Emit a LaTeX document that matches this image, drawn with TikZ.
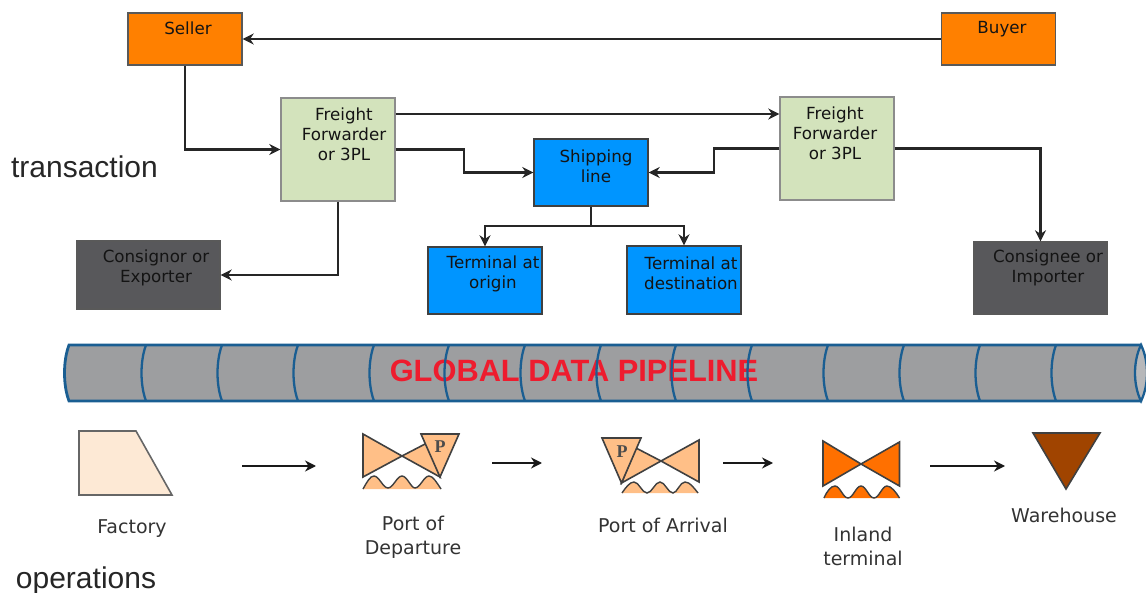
\documentclass[tikz,border=0pt]{standalone}
\usepackage{fontspec}
\setmainfont{DejaVu Sans}
\newfontfamily\arialfont{Liberation Sans}
\newfontfamily\pfont{Liberation Serif}
\usetikzlibrary{arrows.meta}
\definecolor{orangebox}{HTML}{FF8000}
\definecolor{greenbox}{HTML}{D3E3BC}
\definecolor{bluebox}{HTML}{0095FF}
\definecolor{darkbox}{HTML}{58585B}
\definecolor{pipefill}{HTML}{9D9EA0}
\definecolor{pipeend}{HTML}{B7B8BA}
\definecolor{pipeline}{HTML}{1A5E92}
\definecolor{redtext}{HTML}{EE1C2E}
\definecolor{factoryfill}{HTML}{FDE9D5}
\definecolor{portfill}{HTML}{FFBF87}
\definecolor{inlandfill}{HTML}{FF7000}
\definecolor{whfill}{HTML}{A04400}
\definecolor{inkline}{HTML}{262626}
\tikzset{
  box/.style n args={3}{draw=#3,line width=1.4pt,inner sep=0pt,minimum width=#1,minimum height=#2},
  orangeb/.style={box={114pt}{52pt}{black!65},fill=orangebox},
  greenb/.style={box={114pt}{103pt}{black!45},fill=greenbox},
  blueb/.style={box={114pt}{67pt}{black!75},fill=bluebox},
  darkb/.style={fill=darkbox,draw=black!65,line width=1.4pt,inner sep=0pt},
  lbl/.style={font=\fontsize{16.7}{20}\selectfont,text=black!92,align=center,inner sep=0pt},
  oplbl/.style={font=\fontsize{19}{24}\selectfont,text=black!80,align=center,inner sep=0pt},
  bigl/.style={font=\arialfont\fontsize{30}{32}\selectfont,text=black!85,inner sep=0pt},
  conn/.style={draw=inkline,line width=2.4pt,-{Stealth[length=11pt,width=11pt]}},
  plainconn/.style={draw=inkline,line width=2.4pt},
  oparrow/.style={draw=black!90,line width=2.4pt,-{Stealth[length=11pt,width=11pt]}},
  sym/.style={draw=black!75,line width=1.6pt,line join=miter},
  wave/.style={draw=black!75,line width=1.4pt},
  pipearc/.style={draw=pipeline,line width=2.3pt},
  pletter/.style={font=\pfont\bfseries\fontsize{18}{18}\selectfont,text=black!70,inner sep=0pt},
}
\begin{document}
\begin{tikzpicture}[x=1pt,y=-1pt]
\useasboundingbox (0,0) rectangle (1146,593);
\begin{scope}
\clip (0,0) rectangle (1146,593);
% boxes
\node[orangeb] (seller) at (185,39) {};
\node[orangeb] (buyer) at (998.5,39) {};
\node[greenb] (ffa) at (338,149.5) {};
\node[greenb] (ffb) at (837,148.5) {};
\node[blueb] (ship) at (591,172.5) {};
\node[blueb] (torig) at (485,280.5) {};
\node[blueb,minimum height=68pt] (tdest) at (684,280) {};
\node[darkb,minimum width=143pt,minimum height=68pt] (consr) at (148.5,275) {};
\node[darkb,minimum width=133pt,minimum height=72pt] (consee) at (1040.5,278) {};
% box texts
\node[lbl] (tseller) at (188,28) {Seller};
\node[lbl] (tbuyer) at (1002,29) {Buyer};
\node[lbl] (tffa) at (344,134.5) {Freight\\Forwarder\\or 3PL};
\node[lbl] (tffb) at (835,133.5) {Freight\\Forwarder\\or 3PL};
\node[lbl] (tship) at (596,166) {Shipping\\line};
\node[lbl] (ttorig) at (493,274) {Terminal at\\origin};
\node[lbl] (ttdest) at (691,273) {Terminal at\\destination};
\node[lbl] (tconsr) at (156,268) {Consignor or\\Exporter};
\node[lbl] (tconsee) at (1048,268) {Consignee or\\Importer};
% connectors
\draw[conn] (buyer.west) -- (seller.east);
\draw[conn] (seller.south) |- (ffa.west);
\draw[conn] (ffa.east |- 0,114) -- (ffb.west |- 0,114);
\draw[conn] (ffa.east) -- (ffa.east -| 464,0) |- (ship.west);
\draw[conn] (ffb.west) -- (ffb.west -| 714,0) |- (ship.east);
\coordinate (split) at (591,226);
\draw[plainconn] (ship.south) -- (split);
\draw[conn] (split) -| (torig.north);
\draw[conn] (split) -| (tdest.north);
\draw[conn] (ffa.south) |- (consr.east);
\draw[conn] (ffb.east) -| (consee.north);
% side labels
\node[bigl] (ttrans) at (84.5,167) {transaction};
\node[bigl] (toper) at (86,581) {operations};
% pipeline
\fill[pipefill] (69,345) -- (1142,345) -- (1142,401) -- (69,401) .. controls (63,385) and (63,361) .. (69,345) -- cycle;
\node[font=\arialfont\bfseries\fontsize{30.8}{32}\selectfont,text=redtext,inner sep=0pt] (tpipe) at (574,371) {GLOBAL DATA PIPELINE};
\draw[pipearc,line width=2.8pt] (1142,345) -- (69,345) .. controls (63,361) and (63,385) .. (69,401) -- (1142,401);
\foreach \px in {146,222,298,374,449,525,601,676,752,828,904,980,1056}{
  \draw[pipearc] (\px,345) .. controls (\px-6,361) and (\px-6,385) .. (\px,401);
}
\fill[pipeend] (1141,345) .. controls (1133,361) and (1133,385) .. (1141,401) .. controls (1149,385) and (1149,361) .. (1141,345) -- cycle;
\draw[pipearc] (1141,345) .. controls (1133,361) and (1133,385) .. (1141,401) .. controls (1149,385) and (1149,361) .. (1141,345) -- cycle;
\end{scope}
% factory
\draw[sym,draw=black!60,fill=factoryfill] (79,431) -- (136,431) -- (172,495) -- (79,495) -- cycle;
% port of departure
\draw[sym,fill=portfill] (363,434) -- (402,456) -- (363,477) -- cycle;
\draw[sym,fill=portfill] (402,456) -- (427,443) -- (440,477) -- cycle;
\draw[sym,fill=portfill] (421,434) -- (459,434) -- (440,477) -- cycle;
\node[pletter] (pa) at (440,447) {P};
\fill[portfill] (363,489) .. controls (367,482) and (370,476) .. (374,476) .. controls (379,476) and (383,488) .. (388,488) .. controls (393,488) and (397,476) .. (402,476) .. controls (407,476) and (411,488) .. (415,488) .. controls (420,488) and (424,476) .. (429,476) .. controls (433,476) and (437,483) .. (441,489) -- cycle;
\draw[wave] (363,489) .. controls (367,482) and (370,476) .. (374,476) .. controls (379,476) and (383,488) .. (388,488) .. controls (393,488) and (397,476) .. (402,476) .. controls (407,476) and (411,488) .. (415,488) .. controls (420,488) and (424,476) .. (429,476) .. controls (433,476) and (437,483) .. (441,489);
% port of arrival
\draw[sym,fill=portfill] (699,440) -- (661,461) -- (699,482) -- cycle;
\draw[sym,fill=portfill] (661,461) -- (636,448) -- (621.5,483) -- cycle;
\draw[sym,fill=portfill] (602,438) -- (641,438) -- (621.5,483) -- cycle;
\node[pletter] (pb) at (622,452) {P};
\fill[portfill] (622,493) .. controls (626,487) and (630,482) .. (634,482) .. controls (639,482) and (642,493) .. (647,493) .. controls (652,493) and (655,482) .. (660,482) .. controls (665,482) and (668,493) .. (673,493) .. controls (677,493) and (680,482) .. (685,482) .. controls (690,482) and (694,488) .. (698,493) -- cycle;
\draw[wave] (622,493) .. controls (626,487) and (630,482) .. (634,482) .. controls (639,482) and (642,493) .. (647,493) .. controls (652,493) and (655,482) .. (660,482) .. controls (665,482) and (668,493) .. (673,493) .. controls (677,493) and (680,482) .. (685,482) .. controls (690,482) and (694,488) .. (698,493);
% inland terminal
\draw[sym,fill=inlandfill] (823,441) -- (861,464) -- (823,486) -- cycle;
\draw[sym,fill=inlandfill] (899.5,442) -- (861,464) -- (899.5,486) -- cycle;
\fill[inlandfill] (824,498) .. controls (827,491) and (831,486) .. (835,486) .. controls (840,486) and (843,498) .. (848,498) .. controls (853,498) and (856,486) .. (861,486) .. controls (866,486) and (869,498) .. (874,498) .. controls (879,498) and (882,486) .. (887,486) .. controls (891,486) and (896,492) .. (899.5,498) -- cycle;
\draw[wave] (824,498) .. controls (827,491) and (831,486) .. (835,486) .. controls (840,486) and (843,498) .. (848,498) .. controls (853,498) and (856,486) .. (861,486) .. controls (866,486) and (869,498) .. (874,498) .. controls (879,498) and (882,486) .. (887,486) .. controls (891,486) and (896,492) .. (899.5,498);
% warehouse
\draw[sym,fill=whfill] (1033,433) -- (1100,433) -- (1066,489) -- cycle;
% operation arrows
\coordinate (oa1) at (242,466); \coordinate (ob1) at (316,466);
\coordinate (oa2) at (492,463); \coordinate (ob2) at (542,463);
\coordinate (oa3) at (723,463); \coordinate (ob3) at (773,463);
\coordinate (oa4) at (930,466); \coordinate (ob4) at (1005,466);
\draw[oparrow] (oa1) -- (ob1);
\draw[oparrow] (oa2) -- (ob2);
\draw[oparrow] (oa3) -- (ob3);
\draw[oparrow] (oa4) -- (ob4);
% operation labels
\node[oplbl] (lfac) at (132,529) {Factory};
\node[oplbl] (lpod) at (413,537) {Port of\\Departure};
\node[oplbl] (lpoa) at (663,525) {Port of Arrival};
\node[oplbl] (lint) at (863,546) {Inland\\terminal};
\node[oplbl] (lwh) at (1064,515) {Warehouse};
\end{tikzpicture}
\end{document}
